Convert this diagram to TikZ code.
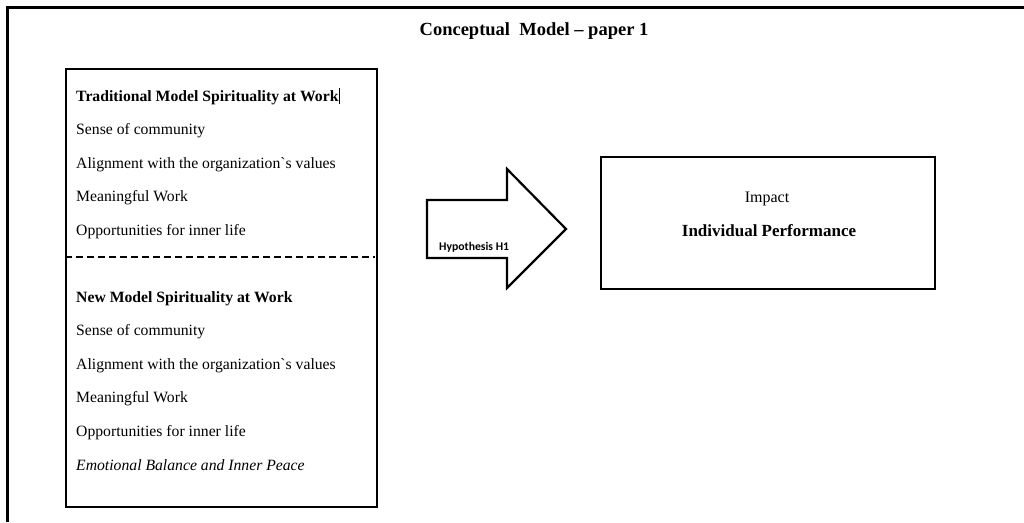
\documentclass[tikz,border=0pt]{standalone}
\usepackage{fontspec}
\setmainfont{Liberation Serif}
\newfontfamily\calfont{Carlito}
\begin{document}
\begin{tikzpicture}[x=1pt,y=-1pt,
  frameline/.style={line width=3pt},
  boxline/.style={draw,line width=2.4pt},
  item/.style={anchor=base west,inner sep=0pt,font=\fontsize{15.7}{18}\selectfont},
  head/.style={item,font=\fontsize{15.7}{18}\selectfont\bfseries}]
\useasboundingbox (0,0) rectangle (1024,522);
% outer frame
\coordinate (fa) at (7,522);
\coordinate (fb) at (7,7);
\coordinate (fc) at (1024,7);
\draw[frameline] (fa) -- (fb) -- (fc);
\node[anchor=base,inner sep=0pt,font=\fontsize{18.5}{20}\selectfont\bfseries] (title) at (534,35) {Conceptual\ \ Model -- paper 1};
% left box
\node[boxline,minimum width=311pt,minimum height=438pt,anchor=north west,inner sep=0pt] (left) at (65,68) {};
\coordinate (dl) at (65,257);
\coordinate (dr) at (375,257);
\draw[line width=2pt,dash pattern=on 7pt off 4pt] (dl) -- (dr);
\node[head] (t0) at (76,101) {Traditional Model Spirituality at Work};
\draw[line width=0.8pt] ([xshift=1pt,yshift=-3pt]t0.base east) -- ([xshift=1pt,yshift=13pt]t0.base east);
\node[item] (t1) at (76,134) {Sense of community};
\node[item] (t2) at (76,168) {Alignment with the organization\textasciigrave s values};
\node[item] (t3) at (76,201) {Meaningful Work};
\node[item] (t4) at (76,235) {Opportunities for inner life};
\node[head] (n0) at (76,302) {New Model Spirituality at Work};
\node[item] (n1) at (76,335) {Sense of community};
\node[item] (n2) at (76,369) {Alignment with the organization\textasciigrave s values};
\node[item] (n3) at (76,402) {Meaningful Work};
\node[item] (n4) at (76,436) {Opportunities for inner life};
\node[item,font=\fontsize{15.7}{18}\selectfont\itshape] (n5) at (76,470) {Emotional Balance and Inner Peace};
% arrow
\draw[line width=2.2pt,line join=miter] (427,200) -- (507,200) -- (507,169) -- (566,229) -- (507,288) -- (507,258) -- (427,258) -- cycle;
\node[anchor=base west,inner sep=0pt,font=\calfont\bfseries\fontsize{11.7}{13}\selectfont] (hyp) at (439,250) {Hypothesis H1};
% right box
\node[boxline,minimum width=334pt,minimum height=132pt,anchor=north west,inner sep=0pt] (right) at (600,156) {};
\node[anchor=base,inner sep=0pt,font=\fontsize{16}{18}\selectfont] (imp) at (767,202) {Impact};
\node[anchor=base,inner sep=0pt,font=\fontsize{17}{19}\selectfont\bfseries] (ind) at (769,236) {Individual Performance};
\end{tikzpicture}
\end{document}
